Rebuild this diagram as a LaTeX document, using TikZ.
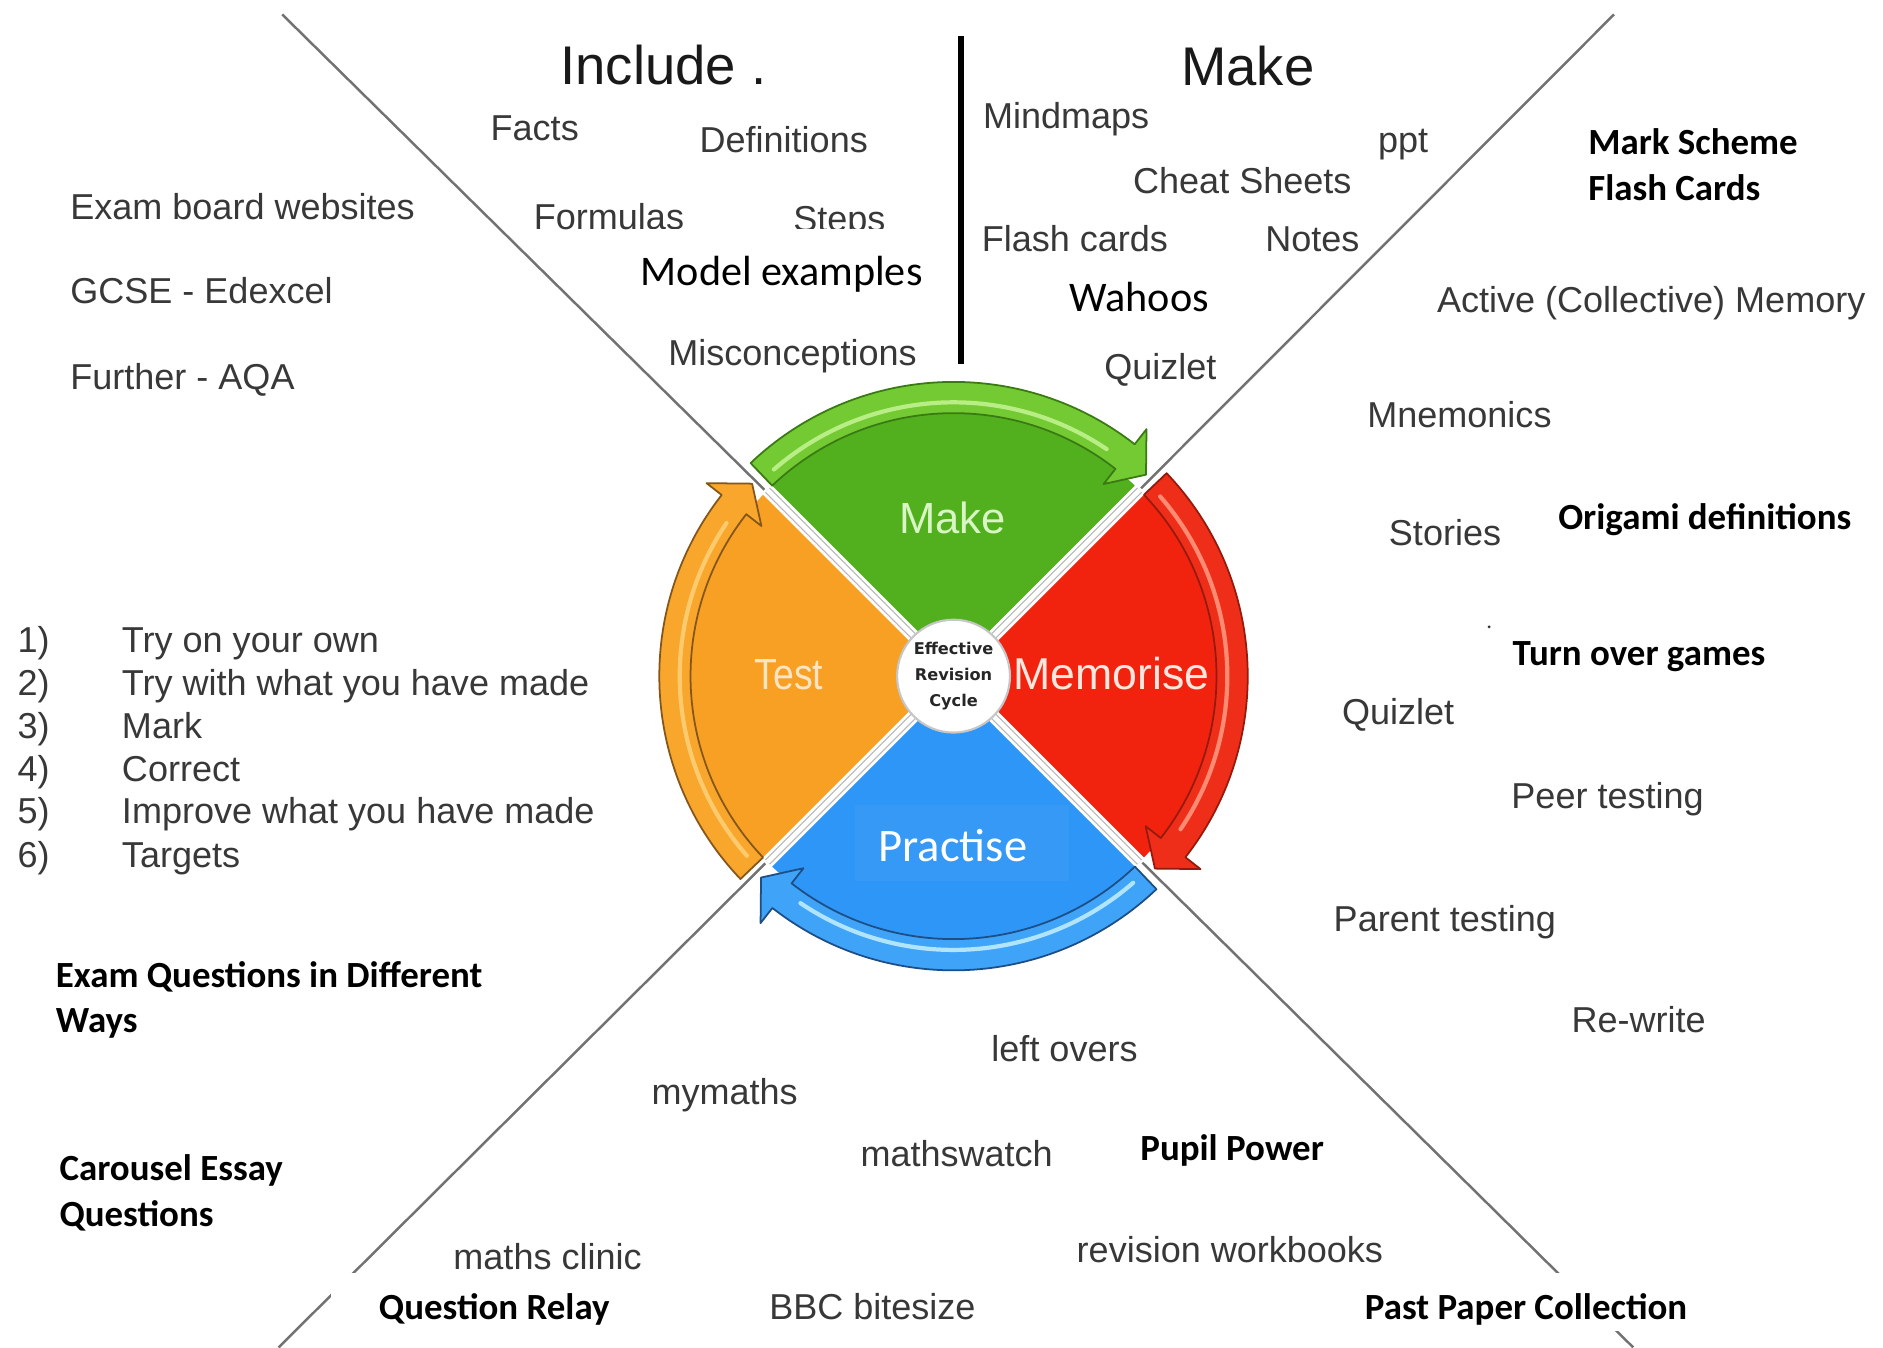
\documentclass[tikz,border=0pt]{standalone}
\usepackage{fontspec}
\setmainfont{Liberation Sans}
\newfontfamily\calfont{Carlito}
\newfontfamily\dejafont{DejaVu Sans}

\definecolor{txtgrey}{HTML}{383838}
\definecolor{crosscol}{HTML}{727272}
% wedge fills
\definecolor{makeg}{HTML}{52B01F}
\definecolor{memr}{HTML}{F2230E}
\definecolor{pracb}{HTML}{2E96F7}
\definecolor{testo}{HTML}{F7A024}
% arrow bands: fill, outline, highlight
\definecolor{gband}{HTML}{74CA33}\definecolor{gdark}{HTML}{3A7A12}\definecolor{glight}{HTML}{B8EE85}
\definecolor{rband}{HTML}{EF2E1A}\definecolor{rdark}{HTML}{961A0C}\definecolor{rlight}{HTML}{FF8C72}
\definecolor{bband}{HTML}{3FA3F8}\definecolor{bdark}{HTML}{1D4E86}\definecolor{blight}{HTML}{B0E4FF}
\definecolor{oband}{HTML}{F8A62C}\definecolor{odark}{HTML}{85561A}\definecolor{olight}{HTML}{FDCB6E}
\definecolor{pracbox}{HTML}{3599F5}

% one curved arrow of the cycle, drawn for the top quadrant and rotated
% #1 rotation, #2 fill, #3 outline, #4 highlight
\newcommand\cyclearrow[4]{%
  \begin{scope}[rotate=#1]
    \fill[#2] (133.6:245) arc[start angle=133.6,end angle=52,radius=245]
      -- (52:261) -- (46.3:232) -- (52:203) -- (52:219)
      arc[start angle=52,end angle=133.6,radius=219] -- cycle;
    \draw[#4, line width=1.2pt, line cap=round]
      (131:228) arc[start angle=131,end angle=56,radius=228];
    \draw[#3, line width=0.5pt, line join=round]
      (133.6:245) arc[start angle=133.6,end angle=52,radius=245]
      -- (52:261) -- (46.3:232) -- (52:203) -- (52:219)
      arc[start angle=52,end angle=133.6,radius=219] -- cycle;
  \end{scope}}

\begin{document}
\begin{tikzpicture}[x=0.012009cm, y=-0.012009cm,
  greytxt/.style={font=\fontsize{10.25}{12}\selectfont, text=txtgrey, inner sep=0pt, anchor=base west},
  headtxt/.style={font=\fontsize{15.5}{18}\selectfont, text=black!90, inner sep=0pt, anchor=base west},
  boldtxt/.style={font=\calfont\bfseries\fontsize{10.5}{12}\selectfont, text=black, inner sep=0pt, anchor=base west},
  caltxt/.style={font=\calfont\fontsize{12}{14}\selectfont, text=black, inner sep=0pt, anchor=base west},
  crossline/.style={draw=crosscol, line width=0.7pt},
  wedgelabel/.style={font=\fontsize{12.4}{14}\selectfont, inner sep=0pt, anchor=base},
  gapline/.style={draw=gray!55, line width=0.35pt, double=white, double distance=1.3pt}]

\fill[white] (0,0) rectangle (1568,1122);
\useasboundingbox (0,0) rectangle (1568,1122);

% the big cross dividing the page
\coordinate (c) at (794,563);
\coordinate (tl) at (235,12);
\coordinate (tr) at (1344,12);
\coordinate (bl) at (232,1122);
\coordinate (br) at (1360,1122);
\draw[crossline] (c) -- (tl);
\draw[crossline] (c) -- (tr);
\draw[crossline] (c) -- (bl);
\draw[crossline] (c) -- (br);

% divider between "Include" and "Make"
\coordinate (bartop) at (800,30);
\coordinate (barbot) at (800,303);
\draw[black, line width=1.7pt] (bartop) -- (barbot);

% ---------------- the revision cycle ----------------
\begin{scope}[shift={(794,563)}, yscale=-1]
  \fill[makeg] (0,0) -- (45:219) arc[start angle=45,end angle=135,radius=219] -- cycle;
  \fill[memr]  (0,0) -- (-45:219) arc[start angle=-45,end angle=45,radius=219] -- cycle;
  \fill[pracb] (0,0) -- (-135:219) arc[start angle=-135,end angle=-45,radius=219] -- cycle;
  \fill[testo] (0,0) -- (135:219) arc[start angle=135,end angle=225,radius=219] -- cycle;
  \foreach \a in {45,135,225,315}{
    \draw[white, line width=3.6pt] (0,0) -- (\a:221);
    \draw[gapline] (0,0) -- (\a:219);
  }
  \fill[pracbox] (-82,-107) rectangle (96,-171);
  \cyclearrow{0}{gband}{gdark}{glight}
  \cyclearrow{90}{rband}{rdark}{rlight}
  \cyclearrow{180}{bband}{bdark}{blight}
  \cyclearrow{-90}{oband}{odark}{olight}
  \fill[white] (0,0) circle (47);
  \draw[gray!45, line width=0.6pt] (0,0) circle (47);
\end{scope}

\node[font=\dejafont\bfseries\fontsize{4.6}{7.5}\selectfont, text=black!85, align=center, inner sep=0pt]
  (cyc) at (c) {Effective\\Revision\\Cycle};
\node[wedgelabel, text={rgb,255:red,216;green,246;blue,196}] (wmake) at (793,444) {Make};
\node[wedgelabel, text={rgb,255:red,253;green,229;blue,196}] (wtest) at (657,574) {\scalebox{0.86}[1]{Test}};
\node[wedgelabel, font=\fontsize{12.7}{14}\selectfont, text={rgb,255:red,255;green,230;blue,222}] (wmem) at (925.5,574) {Memorise};
\node[font=\calfont\fontsize{13.25}{15}\selectfont, text=white, inner sep=0pt, anchor=base] (wprac) at (793.5,717) {Practise};

% ---------------- Include ----------------
\node[headtxt] (include) at (466,70) {Include .};
\node[greytxt] (facts) at (408,117) {Facts};
\node[greytxt] (defs) at (582,127) {Definitions};
\node[greytxt] (formulas) at (444,191) {Formulas};
\node[greytxt] (steps) at (660,193) {Steps};
\fill[white] (525,191) rectangle (782,250);
\node[caltxt] (model) at (533,238) {Model examples};
\node[greytxt] (miscon) at (556,304) {Misconceptions};

% ---------------- exam boards ----------------
\node[greytxt] (exam) at (58,183) {Exam board websites};
\node[greytxt] (gcse) at (58,253) {GCSE - Edexcel};
\node[greytxt] (further) at (58,324) {Further - AQA};

% ---------------- Make ----------------
\node[headtxt] (makehd) at (983,71) {Make};
\node[greytxt] (mindmaps) at (818,107) {Mindmaps};
\node[greytxt] (ppt) at (1147,127) {ppt};
\node[greytxt] (cheat) at (943,161) {Cheat Sheets};
\node[greytxt] (flashc) at (817,209) {Flash cards};
\node[greytxt] (notes) at (1053,209) {Notes};
\node[caltxt] (wahoos) at (890,259) {Wahoos};
\node[greytxt] (quizlet1) at (919,316) {Quizlet};

% ---------------- Memorise ----------------
\node[boldtxt] (markscheme) at (1322,129) {Mark Scheme};
\node[boldtxt] (flashcards) at (1322,167) {Flash Cards};
\node[greytxt] (active) at (1196,260) {Active (Collective) Memory};
\node[greytxt] (mnem) at (1138,356) {Mnemonics};
\node[greytxt] (stories) at (1156,454) {Stories};
\node[boldtxt] (origami) at (1297,441) {Origami definitions};
\fill[txtgrey] (1240,522) circle (1.3);
\node[boldtxt] (turnover) at (1259,554) {Turn over games};
\node[greytxt] (quizlet2) at (1117,603) {Quizlet};
\node[greytxt] (peer) at (1258,673) {Peer testing};
\node[greytxt] (parent) at (1110,776) {Parent testing};
\node[greytxt] (rewrite) at (1308,860) {Re-write};

% ---------------- Test ----------------
\foreach \i/\y/\t in {1/543/Try on your own, 2/579/Try with what you have made, 3/615/Mark,
                      4/651/Correct, 5/686/Improve what you have made, 6/722/Targets}{
  \node[greytxt] (n\i) at (14,\y) {\i)};
  \node[greytxt] (t\i) at (101,\y) {\t};
}
\node[boldtxt] (examq1) at (46,822) {Exam Questions in Different};
\node[boldtxt] (examq2) at (46,860) {Ways};
\node[boldtxt] (carousel1) at (49,983) {Carousel Essay};
\node[boldtxt] (carousel2) at (49,1021) {Questions};

% ---------------- Practise ----------------
\node[greytxt] (leftovers) at (825,884) {left overs};
\node[greytxt] (mymaths) at (542,920) {mymaths};
\node[greytxt] (mathswatch) at (716,971) {mathswatch};
\node[boldtxt] (pupil) at (949,966) {Pupil Power};
\node[greytxt] (clinic) at (377,1057) {maths clinic};
\node[greytxt] (workbooks) at (896,1051) {revision workbooks};
\fill[white] (276,1060) rectangle (600,1122);
\fill[white] (1100,1060) rectangle (1420,1108);
\node[boldtxt] (relay) at (315,1099) {Question Relay};
\node[greytxt] (bbc) at (640,1099) {BBC bitesize};
\node[boldtxt] (pastpaper) at (1136,1099) {Past Paper Collection};

\end{tikzpicture}
\end{document}
